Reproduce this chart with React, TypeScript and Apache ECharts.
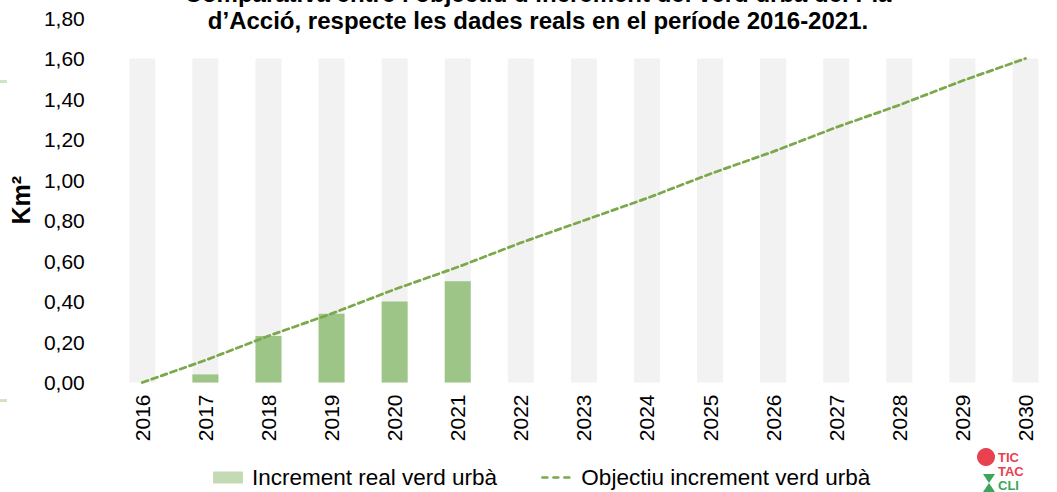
import React, { useEffect, useRef } from "react";
import * as echarts from "echarts";

const years = ["2016","2017","2018","2019","2020","2021","2022","2023","2024","2025","2026","2027","2028","2029","2030"];
const realIncrement: (number | null)[] = [null, 0.04, 0.23, 0.34, 0.40, 0.50, null, null, null, null, null, null, null, null, null];
const objective = [0, 0.11, 0.23, 0.34, 0.46, 0.57, 0.69, 0.80, 0.91, 1.03, 1.14, 1.26, 1.37, 1.49, 1.60];
const background = [1.6, 1.6, 1.6, 1.6, 1.6, 1.6, 1.6, 1.6, 1.6, 1.6, 1.6, 1.6, 1.6, 1.6, 1.6];
const yTicks = { min: 0, max: 1.8, interval: 0.2 };

const FONT = "'Liberation Sans', Arial, sans-serif";
const LOGO_FONT = "bold 13px 'Liberation Sans Narrow', 'Liberation Sans', Arial";

export default function App() {
  const ref = useRef<HTMLDivElement>(null);
  useEffect(() => {
    if (!ref.current) return;
    const chart = echarts.init(ref.current, undefined, { renderer: "svg" });
    chart.setOption({
      animation: false,
      textStyle: { fontFamily: FONT },
      title: {
        text: "Comparativa entre l’objectiu d’increment del verd urbà del Pla\nd’Acció, respecte les dades reals en el període 2016-2021.",
        left: 538,
        top: -20,
        padding: 0,
        textAlign: "center",
        textStyle: { fontFamily: FONT, fontSize: 24, fontWeight: "bold", color: "#000", lineHeight: 27 },
      },
      grid: { left: 110, top: 18, width: 960, height: 364.5, containLabel: false },
      legend: {
        left: 213,
        top: 466,
        padding: 0,
        itemGap: 44,
        itemWidth: 30,
        itemHeight: 12,
        textStyle: { fontFamily: FONT, fontSize: 22.5, color: "#000", padding: [0, 0, 0, 4] },
        data: [
          { name: "Increment real verd urbà", icon: "rect", itemStyle: { color: "#c3dab5" } },
          { name: "Objectiu increment verd urbà", itemStyle: { opacity: 0 }, lineStyle: { type: [5, 6], width: 2.5, color: "#7aa84a" } },
        ],
      },
      xAxis: {
        type: "category",
        data: years,
        axisLine: { show: false },
        axisTick: { show: false },
        axisLabel: { rotate: 90, fontSize: 21, color: "#000", margin: 12, fontFamily: FONT },
      },
      yAxis: {
        type: "value",
        min: yTicks.min,
        max: yTicks.max,
        interval: yTicks.interval,
        name: "Km²",
        nameLocation: "middle",
        nameGap: 76,
        nameRotate: 90,
        nameTextStyle: { fontSize: 25, fontWeight: "bold", color: "#000", fontFamily: FONT },
        splitLine: { show: false },
        axisLine: { show: false },
        axisTick: { show: false },
        axisLabel: {
          fontSize: 21,
          color: "#000",
          margin: 26,
          fontFamily: FONT,
          formatter: (v: number) => v.toFixed(2).replace(".", ","),
        },
      },
      series: [
        {
          name: "bg",
          type: "bar",
          data: background,
          barWidth: 26,
          itemStyle: { color: "#f2f2f2" },
          silent: true,
        },
        {
          name: "Increment real verd urbà",
          type: "bar",
          data: realIncrement,
          barWidth: 26,
          barGap: "-100%",
          itemStyle: { color: "#9cc587" },
        },
        {
          name: "Objectiu increment verd urbà",
          type: "line",
          data: objective,
          symbol: "none",
          lineStyle: { color: "#7aa84a", width: 2.75, type: [6, 4], cap: "round" },
          itemStyle: { color: "#7aa84a" },
        },
      ],
      graphic: [
        { type: "rect", shape: { x: 0, y: 80, width: 7, height: 3 }, style: { fill: "#cfe3c6" } },
        { type: "rect", shape: { x: 0, y: 399, width: 7, height: 3 }, style: { fill: "#cfe3c6" } },
        { type: "circle", shape: { cx: 986, cy: 457, r: 9 }, style: { fill: "#e8414f" } },
        { type: "polygon", shape: { points: [[983, 474], [995, 474], [989, 483]] }, style: { fill: "#3aa55b" } },
        { type: "polygon", shape: { points: [[983, 492], [995, 492], [989, 483]] }, style: { fill: "#3aa55b" } },
        { type: "text", x: 998, y: 451, style: { text: "TIC", fill: "#e8414f", font: LOGO_FONT } },
        { type: "text", x: 998, y: 465, style: { text: "TAC", fill: "#e8414f", font: LOGO_FONT } },
        { type: "text", x: 998, y: 479, style: { text: "CLI", fill: "#3aa55b", font: LOGO_FONT } },
      ],
    });
    return () => chart.dispose();
  }, []);
  return <div ref={ref} style={{ width: 1057, height: 492, position: "absolute", left: 0, top: 0 }} />;
}
